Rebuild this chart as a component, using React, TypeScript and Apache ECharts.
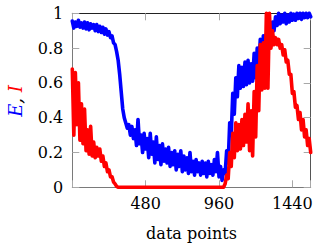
import { useEffect, useRef } from "react";
import * as echarts from "echarts";

// sample positions along the x axis (data point index)
const SAMPLE_STEP = 10;

// E (blue) sampled every 10 data points, 0..1560
const E_VALUES = [
  0.955, 0.915, 0.95, 0.925, 0.96, 0.92, 0.945, 0.915, 0.95, 0.91,
  0.945, 0.905, 0.94, 0.915, 0.935, 0.9, 0.935, 0.895, 0.925, 0.89,
  0.92, 0.88, 0.91, 0.875, 0.895, 0.86, 0.87, 0.83, 0.82, 0.78,
  0.73, 0.65, 0.55, 0.45, 0.4, 0.37, 0.34, 0.36, 0.3, 0.35,
  0.28, 0.33, 0.24, 0.39, 0.25, 0.3, 0.2, 0.31, 0.22, 0.28,
  0.17, 0.31, 0.19, 0.26, 0.14, 0.29, 0.16, 0.24, 0.13, 0.25,
  0.15, 0.22, 0.14, 0.23, 0.12, 0.2, 0.13, 0.21, 0.1, 0.19,
  0.12, 0.21, 0.09, 0.18, 0.1, 0.17, 0.08, 0.2, 0.09, 0.15,
  0.07, 0.16, 0.09, 0.14, 0.07, 0.15, 0.08, 0.14, 0.06, 0.15,
  0.08, 0.13, 0.07, 0.16, 0.09, 0.2, 0.06, 0.12, 0.04, 0.1,
  0.08, 0.21, 0.14, 0.37, 0.3, 0.54, 0.42, 0.63, 0.52, 0.7,
  0.57, 0.69, 0.58, 0.72, 0.59, 0.73, 0.6, 0.71, 0.61, 0.77,
  0.63, 0.8, 0.68, 0.85, 0.73, 0.87, 0.8, 0.88, 0.84, 0.91,
  0.87, 0.95, 0.9, 0.98, 0.93, 1.0, 0.94, 0.99, 0.95, 1.0,
  0.94, 0.99, 0.95, 1.0, 0.96, 0.995, 0.96, 1.0, 0.97, 1.0,
  0.965, 1.0, 0.975, 1.0, 0.975, 1.0, 0.98,
];

// I (red) sampled every 10 data points, 0..1560
const I_VALUES = [
  0.68, 0.3, 0.66, 0.36, 0.6, 0.27, 0.48, 0.25, 0.45, 0.21,
  0.33, 0.19, 0.35, 0.18, 0.26, 0.17, 0.23, 0.18, 0.22, 0.15,
  0.18, 0.12, 0.14, 0.09, 0.1, 0.06, 0.06, 0.03, 0.02, 0.005,
  0, 0, 0, 0, 0, 0, 0, 0, 0, 0,
  0, 0, 0, 0, 0, 0, 0, 0, 0, 0,
  0, 0, 0, 0, 0, 0, 0, 0, 0, 0,
  0, 0, 0, 0, 0, 0, 0, 0, 0, 0,
  0, 0, 0, 0, 0, 0, 0, 0, 0, 0,
  0, 0, 0, 0, 0, 0, 0, 0, 0, 0,
  0, 0, 0, 0, 0, 0, 0, 0, 0, 0,
  0.02, 0.07, 0.05, 0.2, 0.12, 0.31, 0.17, 0.37, 0.21, 0.36,
  0.22, 0.39, 0.24, 0.42, 0.26, 0.48, 0.21, 0.44, 0.18, 0.55,
  0.29, 0.7, 0.44, 0.82, 0.56, 0.83, 0.57, 1.0, 0.57, 1.0,
  0.8, 0.9, 0.82, 0.86, 0.82, 0.85, 0.8, 0.82, 0.76, 0.79,
  0.72, 0.73, 0.65, 0.65, 0.54, 0.55, 0.46, 0.47, 0.39, 0.43,
  0.33, 0.39, 0.29, 0.33, 0.24, 0.28, 0.2,
];

const X_TICKS = [480, 960, 1440];
const X_MIN = 0;
const X_MAX = 1560;

const FONT = "DejaVu Serif";
const LINE_WIDTH = 3.6;

const toPairs = (vals: number[]) => vals.map((v, i) => [i * SAMPLE_STEP, v]);

export default function App() {
  const ref = useRef<HTMLDivElement>(null);

  useEffect(() => {
    if (!ref.current) return;
    const chart = echarts.init(ref.current, undefined, { renderer: "svg" });

    const tickStyle = { inside: true, length: 7, lineStyle: { color: "#a8a8a8", width: 1 } };

    chart.setOption({
      animation: false,
      backgroundColor: "#fff",
      grid: { left: 72.3, right: 10.3, top: 13.3, bottom: 62.7, containLabel: false },
      xAxis: [
        {
          type: "value",
          position: "bottom",
          min: X_MIN,
          max: X_MAX,
          interval: 480,
          axisLine: { show: true, onZero: false, lineStyle: { color: "#7a7a7a", width: 1 } },
          axisTick: tickStyle,
          splitLine: { show: false },
          axisLabel: {
            margin: 8,
            color: "#000",
            fontFamily: FONT,
            fontSize: 16,
            formatter: (v: number) => (X_TICKS.includes(v) ? String(v) : ""),
          },
        },
        {
          type: "value",
          position: "top",
          min: X_MIN,
          max: X_MAX,
          interval: 480,
          axisLine: { show: true, onZero: false, lineStyle: { color: "#222", width: 1 } },
          axisTick: tickStyle,
          splitLine: { show: false },
          axisLabel: { show: false },
        },
      ],
      yAxis: [
        {
          type: "value",
          position: "left",
          min: 0,
          max: 1,
          interval: 0.2,
          axisLine: { show: true, onZero: false, lineStyle: { color: "#7a7a7a", width: 1 } },
          axisTick: tickStyle,
          splitLine: { show: false },
          axisLabel: {
            margin: 9,
            color: "#000",
            fontFamily: FONT,
            fontSize: 16,
            formatter: (v: number) => String(Number(v.toFixed(1))),
          },
        },
        {
          type: "value",
          position: "right",
          min: 0,
          max: 1,
          interval: 0.2,
          axisLine: { show: true, onZero: false, lineStyle: { color: "#555", width: 1 } },
          axisTick: tickStyle,
          splitLine: { show: false },
          axisLabel: { show: false },
        },
      ],
      series: [
        {
          name: "E",
          type: "line",
          data: toPairs(E_VALUES),
          showSymbol: false,
          clip: false,
          lineStyle: { color: "#0000ff", width: LINE_WIDTH, join: "round", cap: "round" },
          itemStyle: { color: "#0000ff" },
          z: 3,
        },
        {
          name: "I",
          type: "line",
          data: toPairs(I_VALUES),
          showSymbol: false,
          clip: false,
          lineStyle: { color: "#ff0000", width: LINE_WIDTH, join: "round", cap: "round" },
          itemStyle: { color: "#ff0000" },
          z: 4,
        },
      ],
      graphic: [
        {
          type: "text",
          x: 191.5,
          y: 233,
          style: {
            text: "data points",
            fill: "#000",
            fontFamily: FONT,
            fontSize: 16,
            align: "center",
            verticalAlign: "middle",
          },
        },
        {
          type: "text",
          x: 15,
          y: 101,
          rotation: Math.PI / 2,
          style: {
            text: "{e|E}{c|, }{i|I}",
            fontFamily: FONT,
            fontSize: 18,
            fontStyle: "italic",
            align: "center",
            verticalAlign: "middle",
            rich: {
              e: { fill: "#0000ff", fontFamily: FONT, fontSize: 18, fontStyle: "italic" },
              c: { fill: "#000", fontFamily: FONT, fontSize: 18, fontStyle: "italic" },
              i: { fill: "#ff0000", fontFamily: FONT, fontSize: 18, fontStyle: "italic" },
            },
          },
        },
      ],
    });

    return () => chart.dispose();
  }, []);

  return (
    <div
      ref={ref}
      style={{ position: "absolute", left: 0, top: 0, width: 321, height: 250 }}
    />
  );
}
